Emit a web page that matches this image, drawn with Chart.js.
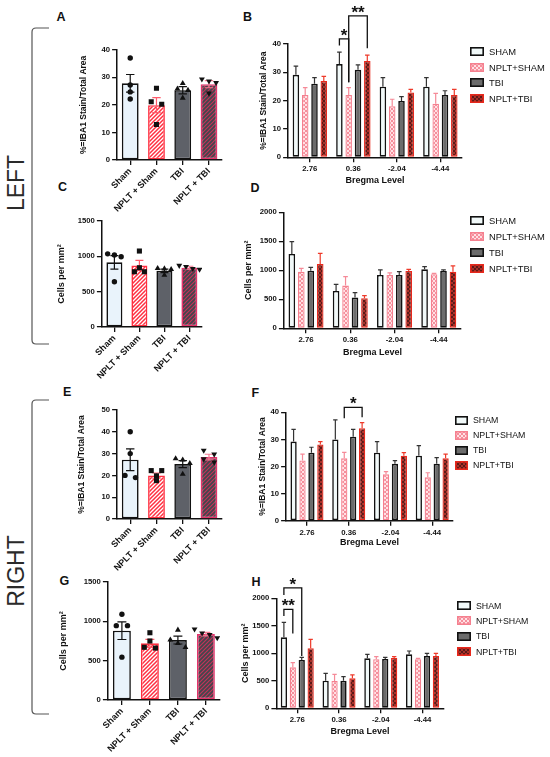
<!DOCTYPE html>
<html>
<head>
<meta charset="utf-8">
<script src="https://cdn.jsdelivr.net/npm/chart.js@4.4.0/dist/chart.umd.min.js"></script>
<style>
  body { margin: 0; width: 550px; height: 757px; background: #fff; position: relative; overflow: hidden;
         font-family: 'Liberation Sans', Arial, sans-serif; color: #111; }
  .letter { position: absolute; font-weight: bold; font-size: 12.5px; line-height: 1; }
  .side { position: absolute; font-size: 23px; color: #2a2a2a; white-space: nowrap; line-height: 1;
          transform: translate(-50%, -50%) rotate(-90deg); }
  .legend { position: absolute; }
  .legend div { display: flex; align-items: center; white-space: nowrap; }
  .legend canvas { margin-right: 5px; }
</style>
</head>
<body>
<svg width="550" height="757" style="position:absolute;left:0;top:0">
  <path d="M49 28 H36 Q32 28 32 32 V340 Q32 344 36 344 H49" fill="none" stroke="#555" stroke-width="1.2"/>
  <path d="M49 400 H36 Q32 400 32 404 V710 Q32 714 36 714 H49" fill="none" stroke="#555" stroke-width="1.2"/>
</svg>
<div class="side" style="left:16px;top:183px">LEFT</div>
<div class="side" style="left:16px;top:571px">RIGHT</div>
<div class="letter" style="left:56.5px;top:11.4px">A</div>
<div class="letter" style="left:243px;top:11.4px">B</div>
<div class="letter" style="left:58px;top:181px">C</div>
<div class="letter" style="left:250.5px;top:182px">D</div>
<div class="letter" style="left:63px;top:386.4px">E</div>
<div class="letter" style="left:251.5px;top:387.4px">F</div>
<div class="letter" style="left:59.5px;top:575.4px">G</div>
<div class="letter" style="left:251.5px;top:576px">H</div>

<script>
const BREGMA = ['2.76', '0.36', '-2.04', '-4.44'];
const GROUPS = ['Sham', 'NPLT + Sham', 'TBI', 'NPLT + TBI'];
const SERIES = ['SHAM', 'NPLT+SHAM', 'TBI', 'NPLT+TBI'];

// A - left, %IBA1 area, group means + individual animals
const A_MEAN = [27.8, 19.9, 25.3, 27.5];
const A_SEM = [3.2, 2.7, 1.3, 1.3];
const A_PTS = [[37, 27.2, 24.7, 22.1], [26, 21.1, 20.2, 12.9], [27.8, 25.8, 25.3, 22.5], [29.3, 28.6, 28, 24.2]];

// B - left, %IBA1 area by bregma level
const B_SHAM = [29.1, 32.9, 24.9, 24.9];
const B_NSHAM = [22, 22, 18, 18.9];
const B_TBI = [26, 30.9, 19.9, 22];
const B_NTBI = [26.9, 34, 22.9, 22];
const B_SHAM_SEM = [3.1, 4.2, 3.2, 3.2];
const B_NSHAM_SEM = [2.6, 2.6, 2.5, 3.7];
const B_TBI_SEM = [2.1, 1.7, 1.5, 1.5];
const B_NTBI_SEM = [1.7, 2.1, 1.1, 2];
const B_SIG = [
  {cat: 1, from: 0, to: 1, y: 41.8, y1: 39.5, y2: 26.5, text: '*'},
  {cat: 1, from: 1, to: 3, y: 49.9, y1: 26.5, y2: 38.5, text: '**'}
];

// C - left, cells per mm2
const C_MEAN = [915, 872, 795, 840];
const C_SEM = [95, 71, 25, 20];
const C_PTS = [[1035, 995, 1020, 640], [1075, 782, 839, 782], [830, 825, 815, 735], [815, 855, 870, 825]];

// D - left, cells per mm2 by bregma level
const D_SHAM = [1282, 644, 920, 1017];
const D_NSHAM = [977, 736, 920, 931];
const D_TBI = [994, 529, 920, 989];
const D_NTBI = [1109, 517, 989, 977];
const D_SHAM_SEM = [212, 115, 86, 46];
const D_NSHAM_SEM = [57, 155, 34, 17];
const D_TBI_SEM = [58, 86, 57, 17];
const D_NTBI_SEM = [184, 46, 28, 98];

// E - right, %IBA1 area
const E_MEAN = [27.2, 19.9, 25.2, 28.4];
const E_SEM = [5, 1.2, 1.6, 1.3];
const E_PTS = [[40, 30, 19, 20], [22.2, 22.2, 19.8, 17.6], [27.7, 27.1, 25.5, 20.6], [31.5, 29.7, 27.5, 26]];

// F - right, %IBA1 area by bregma level
const F_SHAM = [29.2, 30, 25.1, 24];
const F_NSHAM = [22.2, 23, 17.1, 16];
const F_TBI = [25.1, 31, 21, 21];
const F_NTBI = [28.1, 34.1, 24, 23];
const F_SHAM_SEM = [4.5, 7.2, 4.1, 3.7];
const F_NSHAM_SEM = [2.4, 2.2, 1, 1.7];
const F_TBI_SEM = [2, 2.7, 1.2, 2.3];
const F_NTBI_SEM = [1.1, 2.1, 1.1, 1.6];
const F_SIG = [{cat: 1, from: 1, to: 3, y: 41.8, y1: 37.8, y2: 38.2, text: '*'}];

// G - right, cells per mm2
const G_MEAN = [881, 720, 762, 838];
const G_SEM = [112, 50, 50, 22];
const G_PTS = [[1090, 945, 945, 545], [855, 750, 660, 670], [890, 765, 720, 670], [900, 850, 830, 790]];

// H - right, cells per mm2 by bregma level
const H_SHAM = [1291, 503, 909, 982];
const H_NSHAM = [745, 497, 891, 891];
const H_TBI = [879, 503, 897, 952];
const H_NTBI = [1091, 545, 915, 952];
const H_SHAM_SEM = [273, 133, 73, 60];
const H_NSHAM_SEM = [85, 121, 48, 18];
const H_TBI_SEM = [48, 73, 30, 48];
const H_NTBI_SEM = [164, 61, 24, 48];
const H_SIG = [
  {cat: 0, from: 0, to: 2, y: 2190, y1: 2060, y2: 950, text: '*'},
  {cat: 0, from: 0, to: 1, y: 1800, y1: 1680, y2: 1360, text: '**'}
];

const FONT = "'Liberation Sans', Arial, sans-serif";
const IBA = '%=IBA1 Stain/Total Area';
const CELLS = 'Cells per mm\u00B2';

function stripes(bg, fg, lw) {
  const c = document.createElement('canvas');
  c.width = c.height = 4;
  const g = c.getContext('2d');
  g.fillStyle = bg; g.fillRect(0, 0, 4, 4);
  g.strokeStyle = fg; g.lineWidth = lw;
  g.beginPath();
  g.moveTo(-1, 5); g.lineTo(5, -1);
  g.moveTo(-1, 1); g.lineTo(1, -1);
  g.moveTo(3, 5); g.lineTo(5, 3);
  g.stroke();
  return g.createPattern(c, 'repeat');
}

function checks(bg, fg) {
  const c = document.createElement('canvas');
  c.width = c.height = 4;
  const g = c.getContext('2d');
  g.fillStyle = bg; g.fillRect(0, 0, 4, 4);
  g.fillStyle = fg; g.fillRect(0, 0, 2, 2); g.fillRect(2, 2, 2, 2);
  return g.createPattern(c, 'repeat');
}

const SOLO = {
  fill: ['#e9f3fb', stripes('#ffffff', '#ff2f40', 1.5), '#5e6168', stripes('#42454d', '#c23458', 1.2)],
  border: ['#111111', '#ff2f40', '#111111', '#e3336b'],
  err: ['#111111', '#ff5c6c', '#111111', '#f27a92'],
  shape: ['circle', 'rect', 'triangle', 'triangle'],
  size: [2.7, 3.6, 3.4, 3.4],
  turn: [0, 0, 0, 180]
};
const GROUPED = {
  fill: ['#f1f9f9', checks('#ffe0e4', '#f58f9c'), '#6c6c6c', checks('#a83028', '#5a1a18')],
  border: ['#111111', '#f5808f', '#111111', '#e8281c'],
  err: ['#333333', '#f58a98', '#333333', '#ee3a2a']
};

// spread dots that sit close together sideways, like a small beeswarm
function spread(vals, thr) {
  const idx = vals.map((v, i) => i).sort((a, b) => vals[b] - vals[a]);
  const off = vals.map(() => 0);
  let cl = [idx[0]];
  const flush = () => {
    const n = cl.length, step = n === 2 ? 0.4 : 0.27;
    cl.forEach((i, k) => { off[i] = (k - (n - 1) / 2) * step; });
  };
  for (let j = 1; j < idx.length; j++) {
    if (vals[cl[cl.length - 1]] - vals[idx[j]] < thr) cl.push(idx[j]);
    else { flush(); cl = [idx[j]]; }
  }
  flush();
  return off;
}

const yOf = d => (typeof d === 'object' ? d.y : d);

function errorBars(sets) {
  return {
    id: 'errorBars',
    afterDatasetDraw(chart, args) {
      sets.filter(s => s.ds === args.index).forEach(s => {
        const y = chart.scales.y, ctx = chart.ctx;
        const vals = chart.data.datasets[s.ds].data.map(yOf);
        ctx.save();
        ctx.lineWidth = 1.2;
        chart.getDatasetMeta(s.ds).data.forEach((bar, i) => {
          const top = y.getPixelForValue(vals[i] + s.sem[i]);
          const bot = s.both ? y.getPixelForValue(vals[i] - s.sem[i]) : bar.y;
          const hw = bar.width * s.cap / 2;
          ctx.strokeStyle = Array.isArray(s.color) ? s.color[i] : s.color;
          ctx.beginPath();
          ctx.moveTo(bar.x, bot); ctx.lineTo(bar.x, top);
          ctx.moveTo(bar.x - hw, top); ctx.lineTo(bar.x + hw, top);
          if (s.both) { ctx.moveTo(bar.x - hw, bot); ctx.lineTo(bar.x + hw, bot); }
          ctx.stroke();
        });
        ctx.restore();
      });
    }
  };
}

function brackets(list) {
  return {
    id: 'brackets',
    afterDraw(chart) {
      const ctx = chart.ctx, y = chart.scales.y;
      ctx.save();
      ctx.strokeStyle = '#111'; ctx.fillStyle = '#111'; ctx.lineWidth = 1.3;
      ctx.font = 'bold 17px ' + FONT;
      ctx.textAlign = 'center'; ctx.textBaseline = 'alphabetic';
      list.forEach(b => {
        const x1 = chart.getDatasetMeta(b.from).data[b.cat].x;
        const x2 = chart.getDatasetMeta(b.to).data[b.cat].x;
        const yt = y.getPixelForValue(b.y);
        ctx.beginPath();
        ctx.moveTo(x1, y.getPixelForValue(b.y1));
        ctx.lineTo(x1, yt); ctx.lineTo(x2, yt);
        ctx.lineTo(x2, y.getPixelForValue(b.y2));
        ctx.stroke();
        ctx.fillText(b.text, (x1 + x2) / 2, yt + 2);
      });
      ctx.restore();
    }
  };
}

function frame(p) {
  const left = p.titleX - p.ts * 0.6;
  const width = Math.round(p.right - left);
  const height = Math.round(p.bottom - p.top);
  const cv = document.createElement('canvas');
  cv.width = width; cv.height = height;
  cv.style.cssText = `position:absolute;left:${left}px;top:${p.top}px;width:${width}px;height:${height}px`;
  document.body.appendChild(cv);
  return {
    cv,
    yw: p.plot[0] - left,
    pt: p.plot[1] - p.top,
    pr: left + width - p.plot[2],
    xh: p.top + height - p.plot[3]
  };
}

function axes(f, p, o) {
  const tick = {display: true, drawOnChartArea: false, drawTicks: true, tickLength: 5,
                color: '#111', lineWidth: 1.3, offset: false};
  const border = {display: true, color: '#111', width: 1.5};
  return {
    x: {
      type: 'category', offset: true, grid: tick, border,
      ticks: {color: '#111', autoSkip: false, padding: o.rot ? 1 : 2, maxRotation: o.rot, minRotation: o.rot,
              font: {family: FONT, weight: 'bold', size: o.rot ? 9 : 7.8}},
      title: {display: !!o.xTitle, text: o.xTitle || '', color: '#111', padding: 0,
              font: {family: FONT, weight: 'bold', size: 9}},
      afterFit: s => { s.height = f.xh; }
    },
    y: {
      min: 0, max: o.max, grid: tick, border,
      ticks: {stepSize: o.step, color: '#111', padding: 2, callback: v => String(v),
              font: {family: FONT, weight: 'bold', size: 7.7}},
      title: {display: true, text: o.yTitle, color: '#111', padding: 0,
              font: {family: FONT, weight: 'bold', size: p.ts}},
      afterFit: s => { s.width = f.yw; }
    }
  };
}

function baseOptions(f, scales) {
  return {
    responsive: false, animation: false, events: [],
    layout: {padding: {top: f.pt, right: f.pr, left: 0, bottom: 0}},
    plugins: {legend: {display: false}, tooltip: {enabled: false}},
    scales
  };
}

function soloChart(p, mean, sem, pts, o) {
  const f = frame(p);
  const scales = axes(f, p, {...o, rot: 45});
  // one numeric x axis for bars and dots, so the dots can sit beside each other
  Object.assign(scales.x, {
    type: 'linear', min: -0.5, max: 3.5, offset: false,
    afterBuildTicks: s => { s.ticks = GROUPS.map((_, i) => ({value: i})); }
  });
  scales.x.ticks.callback = v => GROUPS[v] || '';
  const thr = o.max / (p.plot[3] - p.plot[1]) * 4;
  const datasets = [{
    type: 'bar', order: 2,
    data: mean.map((v, i) => ({x: i, y: v})),
    backgroundColor: SOLO.fill, borderColor: SOLO.border, borderWidth: 1.6, borderSkipped: false,
    barPercentage: 0.64, categoryPercentage: 1
  }];
  pts.forEach((vals, g) => {
    const off = spread(vals, thr);
    datasets.push({
      type: 'scatter', order: 1,
      data: vals.map((v, k) => ({x: g + off[k], y: v})),
      pointStyle: SOLO.shape[g], pointRadius: SOLO.size[g], pointRotation: SOLO.turn[g],
      pointBackgroundColor: '#111', pointBorderColor: '#111', pointBorderWidth: 0
    });
  });
  new Chart(f.cv, {
    type: 'bar',
    data: {datasets},
    options: baseOptions(f, scales),
    plugins: [errorBars([{ds: 0, sem, color: SOLO.err, both: true, cap: 0.5}])]
  });
}

function legend(left, top, rowH, size, box) {
  const d = document.createElement('div');
  d.className = 'legend';
  d.style.left = left + 'px';
  d.style.top = top + 'px';
  d.style.fontSize = size + 'px';
  SERIES.forEach((name, i) => {
    const row = document.createElement('div');
    row.style.height = rowH + 'px';
    const c = document.createElement('canvas');
    c.width = box[0]; c.height = box[1];
    const g = c.getContext('2d');
    g.fillStyle = GROUPED.fill[i]; g.fillRect(0, 0, box[0], box[1]);
    g.strokeStyle = GROUPED.border[i]; g.lineWidth = 1.6;
    g.strokeRect(0.8, 0.8, box[0] - 1.6, box[1] - 1.6);
    row.appendChild(c);
    row.appendChild(document.createTextNode(name));
    d.appendChild(row);
  });
  document.body.appendChild(d);
}

function groupChart(p, series, sems, sig, o) {
  const f = frame(p);
  const scales = axes(f, p, {...o, rot: 0, xTitle: 'Bregma Level'});
  const datasets = series.map((d, i) => ({
    label: SERIES[i], data: d,
    backgroundColor: GROUPED.fill[i], borderColor: GROUPED.border[i],
    borderWidth: i % 2 ? 1.3 : 1.6, borderSkipped: false,
    barPercentage: 0.7, categoryPercentage: 0.855
  }));
  const errs = sems.map((s, i) => ({ds: i, sem: s, color: GROUPED.err[i], both: false, cap: 0.7}));
  new Chart(f.cv, {
    type: 'bar',
    data: {labels: BREGMA, datasets},
    options: baseOptions(f, scales),
    plugins: [errorBars(errs), brackets(sig)]
  });
}

soloChart({titleX: 84, ts: 8.5, top: 40, bottom: 215, right: 230, plot: [117, 49.7, 222, 160]},
  A_MEAN, A_SEM, A_PTS, {max: 40, step: 10, yTitle: IBA});
groupChart({titleX: 264, ts: 8.5, top: 0, bottom: 186.4, right: 465, plot: [288, 44, 462, 157.3]},
  [B_SHAM, B_NSHAM, B_TBI, B_NTBI], [B_SHAM_SEM, B_NSHAM_SEM, B_TBI_SEM, B_NTBI_SEM], B_SIG,
  {max: 40, step: 10, yTitle: IBA});
legend(470, 44, 15.5, 9.4, [14, 9]);

soloChart({titleX: 61.5, ts: 9, top: 212, bottom: 380, right: 212, plot: [102, 221, 202, 327]},
  C_MEAN, C_SEM, C_PTS, {max: 1500, step: 500, yTitle: CELLS});
groupChart({titleX: 248.5, ts: 9, top: 200, bottom: 358.4, right: 465, plot: [284, 212.3, 461, 328.3]},
  [D_SHAM, D_NSHAM, D_TBI, D_NTBI], [D_SHAM_SEM, D_NSHAM_SEM, D_TBI_SEM, D_NTBI_SEM], [],
  {max: 2000, step: 500, yTitle: CELLS});
legend(470, 212, 16, 9.4, [14, 9]);

soloChart({titleX: 82, ts: 8.5, top: 400, bottom: 590, right: 230, plot: [117, 410, 222, 519]},
  E_MEAN, E_SEM, E_PTS, {max: 50, step: 10, yTitle: IBA});
groupChart({titleX: 263, ts: 8.5, top: 385, bottom: 548.4, right: 456, plot: [286, 412.3, 453, 520.7]},
  [F_SHAM, F_NSHAM, F_TBI, F_NTBI], [F_SHAM_SEM, F_NSHAM_SEM, F_TBI_SEM, F_NTBI_SEM], F_SIG,
  {max: 40, step: 10, yTitle: IBA});
legend(455, 412.5, 15, 8.8, [13, 9]);

soloChart({titleX: 63.5, ts: 9, top: 572, bottom: 757, right: 228, plot: [108, 582, 220, 700]},
  G_MEAN, G_SEM, G_PTS, {max: 1500, step: 500, yTitle: CELLS});
groupChart({titleX: 245, ts: 9, top: 568, bottom: 737.4, right: 450, plot: [276, 598.3, 443, 708.3]},
  [H_SHAM, H_NSHAM, H_TBI, H_NTBI], [H_SHAM_SEM, H_NSHAM_SEM, H_TBI_SEM, H_NTBI_SEM], H_SIG,
  {max: 2000, step: 500, yTitle: CELLS});
legend(457, 598, 15.3, 8.8, [14, 9]);
</script>
</body>
</html>
